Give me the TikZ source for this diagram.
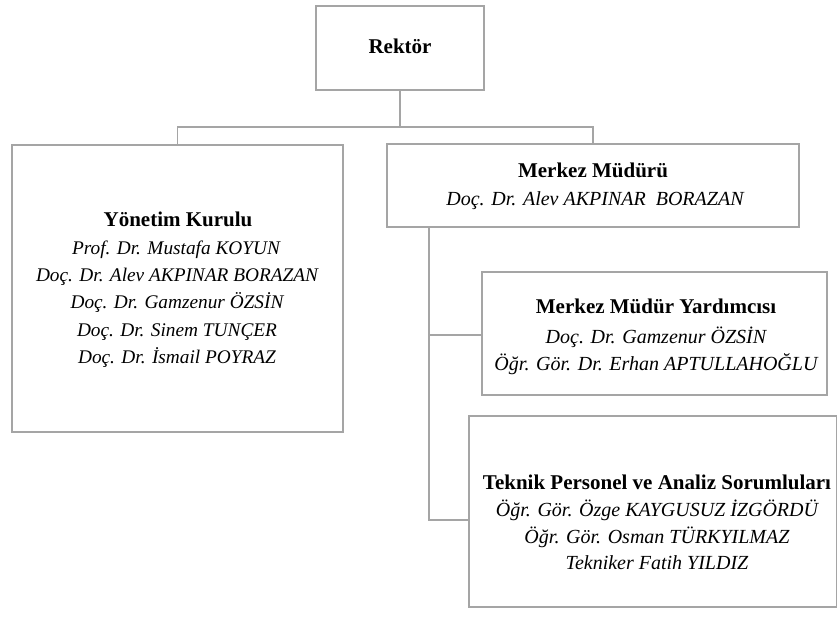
\documentclass[tikz,border=0pt]{standalone}
\usepackage{fontspec}
\setmainfont{Liberation Serif}
\definecolor{linegray}{RGB}{165,165,165}
\begin{document}
\begin{tikzpicture}[x=1pt,y=-1pt,
  box/.style={draw=linegray, line width=1.4pt, inner sep=0pt, outer sep=0pt, anchor=north west},
  conn/.style={draw=linegray, line width=1.4pt},
  hd/.style={font=\fontsize{21}{24}\selectfont\bfseries, anchor=base, inner sep=0pt},
  nm/.style={font=\fontsize{20}{23}\selectfont\itshape, anchor=base, inner sep=0pt},
  nms/.style={font=\fontsize{19.3}{22}\selectfont\itshape, anchor=base, inner sep=0pt}]
\useasboundingbox (0,0) rectangle (837,626);
% boxes
\node[box, minimum width=168pt, minimum height=84pt] (rek) at (316,6) {};
\node[box, minimum width=331pt, minimum height=287pt] (yk) at (12,145) {};
\node[box, minimum width=412pt, minimum height=83pt] (mm) at (387,144) {};
\node[box, minimum width=345pt, minimum height=123pt] (mmy) at (482,272) {};
\node[box, minimum width=368pt, minimum height=191pt] (tk) at (469,416) {};
% connectors
\coordinate (j1) at (400,127);
\coordinate (mmv) at (429,227);
\coordinate (mmyj) at (482,335);
\coordinate (tkj) at (469,520);
\draw[conn] (rek.south) -- (j1) -| (yk.north);
\draw[conn] (j1) -| (mm.north);
\draw[conn] (mmv) |- (mmyj);
\draw[conn] (mmv) |- (tkj);
% texts
\node[hd] (t1) at (400,54) {Rektör};
\node[hd] (t2) at (178,226) {Yönetim Kurulu};
\node[nms] (t3) at (176,254) {Prof. Dr. Mustafa KOYUN};
\node[nms] (t4) at (177,281) {Doç. Dr. Alev AKPINAR BORAZAN};
\node[nms] (t5) at (177,308) {Doç. Dr. Gamzenur ÖZSİN};
\node[nms] (t6) at (177,336) {Doç. Dr. Sinem TUNÇER};
\node[nms] (t7) at (177,363) {Doç. Dr. İsmail POYRAZ};
\node[hd] (t8) at (593,177) {Merkez Müdürü};
\node[nm] (t9) at (595,205) {Doç. Dr. Alev AKPINAR\ \ BORAZAN};
\node[hd] (t10) at (656,313) {Merkez Müdür Yardımcısı};
\node[nm] (t11) at (656,343) {Doç. Dr. Gamzenur ÖZSİN};
\node[nm] (t12) at (656,370) {Öğr. Gör. Dr. Erhan APTULLAHOĞLU};
\node[hd] (t13) at (657,489) {Teknik Personel ve Analiz Sorumluları};
\node[nm] (t14) at (657,516) {Öğr. Gör. Özge KAYGUSUZ İZGÖRDÜ};
\node[nm] (t15) at (657,543) {Öğr. Gör. Osman TÜRKYILMAZ};
\node[nm] (t16) at (657,569) {Tekniker Fatih YILDIZ};
\end{tikzpicture}
\end{document}
